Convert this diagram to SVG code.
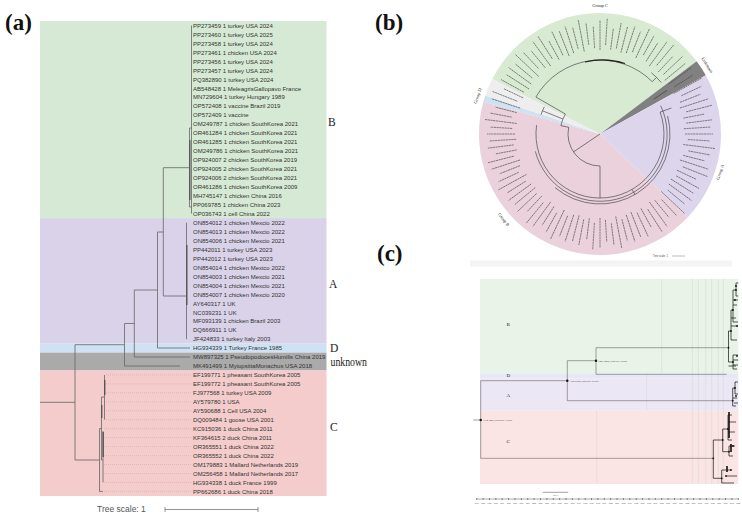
<svg xmlns="http://www.w3.org/2000/svg" xmlns:xlink="http://www.w3.org/1999/xlink" width="742" height="523" viewBox="0 0 742 523">
<style>
.pl{font-family:"Liberation Serif",serif;font-size:23px;font-weight:bold;fill:#111}
.lf{font-family:"Liberation Sans",Arial,sans-serif;font-size:6px;fill:#333}
.gl{font-family:"Liberation Serif",serif;font-size:11.5px;fill:#222}
.tr{fill:none;stroke:#666;stroke-width:0.8}
.trd{fill:none;stroke:#555;stroke-width:1.4}
.dt{stroke:#c9a3a3;stroke-width:0.5;stroke-dasharray:1 1}
.bt{fill:none;stroke:#333;stroke-width:0.6}
.bl{stroke:#444;stroke-width:0.8;stroke-dasharray:2.2 0.5;opacity:0.75}
.bg{font-family:"Liberation Serif",serif;font-size:4.5px;fill:#222}
.ct{fill:none;stroke:#666;stroke-width:0.6}
.cd{fill:none;stroke:#111;stroke-width:0.7}
.cgr{stroke:#d4d4d4;stroke-width:0.5}
.cl{font-family:"Liberation Serif",serif;font-size:5px;fill:#222}
.nl{font-family:"Liberation Serif",serif;font-size:2.5px;fill:#333}
.tk{font-family:"Liberation Sans",Arial,sans-serif;font-size:1.8px;fill:#555;text-anchor:middle}
</style>
<defs>
<g id="lblset">
<line class="bl" x1="85" x2="113"/>
<line class="bl" x1="88" x2="110" transform="rotate(3.6)"/>
<line class="bl" x1="84" x2="116" transform="rotate(7.2)"/>
<line class="bl" x1="90" x2="112" transform="rotate(10.8)"/>
<line class="bl" x1="86" x2="108" transform="rotate(14.4)"/>
<line class="bl" x1="84" x2="114" transform="rotate(18)"/>
<line class="bl" x1="89" x2="116" transform="rotate(21.6)"/>
<line class="bl" x1="85" x2="106" transform="rotate(25.2)"/>
<line class="bl" x1="87" x2="113" transform="rotate(28.8)"/>
<line class="bl" x1="84" x2="111" transform="rotate(32.4)"/>
</g>
</defs>
<rect width="742" height="523" fill="#fff"/>

<!-- ================= PANEL (a) ================= -->
<g id="panel-a">
<text class="pl" x="5" y="30">(a)</text>
<g id="a-bands">
<rect x="40" y="21" width="286.5" height="197.1" fill="#d6e9d4"/>
<rect x="40" y="218.1" width="286.5" height="125.5" fill="#d9d2e9"/>
<rect x="40" y="343.6" width="286.5" height="9" fill="#cfe2f3"/>
<rect x="40" y="352.6" width="286.5" height="17.9" fill="#aaaaaa"/>
<rect x="40" y="370.5" width="286.5" height="125.5" fill="#f4cccc"/>
</g>
<g id="a-connectors">
<g class="dt">
<line x1="106" y1="374.9" x2="191" y2="374.9"/><line x1="106" y1="383.9" x2="191" y2="383.9"/>
<line x1="106" y1="392.8" x2="191" y2="392.8"/><line x1="106" y1="401.8" x2="191" y2="401.8"/>
<line x1="106" y1="410.8" x2="191" y2="410.8"/><line x1="106" y1="419.7" x2="191" y2="419.7"/>
<line x1="104" y1="428.7" x2="191" y2="428.7"/><line x1="104" y1="437.6" x2="191" y2="437.6"/>
<line x1="104" y1="446.6" x2="191" y2="446.6"/><line x1="104" y1="455.6" x2="191" y2="455.6"/>
<line x1="104" y1="464.5" x2="191" y2="464.5"/><line x1="104" y1="473.5" x2="191" y2="473.5"/>
<line x1="104" y1="482.4" x2="191" y2="482.4"/><line x1="104" y1="491.4" x2="191" y2="491.4"/>
</g>
<path class="tr" d="M40,402.3H75 M75,344.7V460 M75,344.7H124.5 M75,460H99.5 M124.5,323.5V366 M124.5,366H180 M124.5,323.5H134.3 M134.3,290V357 M134.3,357H190 M134.3,290H157.5 M157.5,232V348 M157.5,348H190 M157.5,232H163.3 M163.3,167.7V296 M163.3,167.7H189.5 M163.3,296H186.5"/>
<path class="tr" d="M189.5,128V207 M191.5,25.5V213.6 M189.5,128H191.5 M189.5,207H191.5 M186.5,222.6V339.1"/>
<path class="trd" d="M189.8,140V200 M186.8,245V305"/>
<path class="tr" d="M99.5,428.6V491.4 M99.5,491.4H103 M99.5,428.6H101.5 M101.5,397V460 M101.5,397H104.5 M104.5,375V419.7 M101.5,460H103 M103,431V482.4"/>
<path class="trd" d="M104.7,380V395 M103.2,432V457 M101.7,405V418"/>
</g>
<g id="a-labels">
<text class="lf" x="193" y="27.7">PP273459 1 turkey USA 2024</text>
<text class="lf" x="193" y="36.7">PP273460 1 turkey USA 2025</text>
<text class="lf" x="193" y="45.6">PP273458 1 turkey USA 2024</text>
<text class="lf" x="193" y="54.6">PP273461 1 chicken USA 2024</text>
<text class="lf" x="193" y="63.6">PP273456 1 turkey USA 2024</text>
<text class="lf" x="193" y="72.5">PP273457 1 turkey USA 2024</text>
<text class="lf" x="193" y="81.5">PQ382890 1 turkey USA 2024</text>
<text class="lf" x="193" y="90.5">AB548428 1 MeleagrisGallopavo France</text>
<text class="lf" x="193" y="99.4">MN729604 1 turkey Hungary 1989</text>
<text class="lf" x="193" y="108.4">OP572408 1 vaccine Brazil 2019</text>
<text class="lf" x="193" y="117.3">OP572409 1 vaccine</text>
<text class="lf" x="193" y="126.3">OM249787 1 chicken SouthKorea 2021</text>
<text class="lf" x="193" y="135.3">OR461284 1 chicken SouthKorea 2021</text>
<text class="lf" x="193" y="144.2">OR461285 1 chicken SouthKorea 2021</text>
<text class="lf" x="193" y="153.2">OM249786 1 chicken SouthKorea 2021</text>
<text class="lf" x="193" y="162.1">OP924007 2 chicken SouthKorea 2019</text>
<text class="lf" x="193" y="171.1">OP924005 2 chicken SouthKorea 2021</text>
<text class="lf" x="193" y="180.1">OP924006 2 chicken SouthKorea 2021</text>
<text class="lf" x="193" y="189.0">OR461286 1 chicken SouthKorea 2009</text>
<text class="lf" x="193" y="198.0">MH745147 1 chicken China 2016</text>
<text class="lf" x="193" y="206.9">PP069785 1 chicken China 2023</text>
<text class="lf" x="193" y="215.9">OP036743 1 cell China 2022</text>
<text class="lf" x="193" y="224.9">ON854012 1 chicken Mexcio 2022</text>
<text class="lf" x="193" y="233.8">ON854013 1 chicken Mexcio 2022</text>
<text class="lf" x="193" y="242.8">ON854006 1 chicken Mexcio 2021</text>
<text class="lf" x="193" y="251.7">PP442011 1 turkey USA 2023</text>
<text class="lf" x="193" y="260.7">PP442012 1 turkey USA 2023</text>
<text class="lf" x="193" y="269.7">ON854014 1 chicken Mexico 2022</text>
<text class="lf" x="193" y="278.6">ON854003 1 chicken Mexcio 2021</text>
<text class="lf" x="193" y="287.6">ON854004 1 chicken Mexcio 2021</text>
<text class="lf" x="193" y="296.5">ON854007 1 chicken Mexcio 2020</text>
<text class="lf" x="193" y="305.5">AY640317 1 UK</text>
<text class="lf" x="193" y="314.5">NC039231 1 UK</text>
<text class="lf" x="193" y="323.4">MF093139 1 chicken Brazil 2003</text>
<text class="lf" x="193" y="332.4">DQ666911 1 UK</text>
<text class="lf" x="193" y="341.3">JF424833 1 turkey Italy 2003</text>
<text class="lf" x="193" y="350.3">HG934339 1 Turkey France 1985</text>
<text class="lf" x="193" y="359.3">MW897325 1 PseudopodocesHumilis China 2019</text>
<text class="lf" x="193" y="368.2">MK491499 1 MyiopsittaMonachus USA 2018</text>
<text class="lf" x="193" y="377.2">EF199771 1 pheasant SouthKorea 2005</text>
<text class="lf" x="193" y="386.1">EF199772 1 pheasant SouthKorea 2005</text>
<text class="lf" x="193" y="395.1">FJ977568 1 turkey USA 2009</text>
<text class="lf" x="193" y="404.1">AY579780 1 USA</text>
<text class="lf" x="193" y="413.0">AY590688 1 Cell USA 2004</text>
<text class="lf" x="193" y="422.0">DQ009484 1 goose USA 2001</text>
<text class="lf" x="193" y="430.9">KC915036 1 duck China 2011</text>
<text class="lf" x="193" y="439.9">KF364615 2 duck China 2011</text>
<text class="lf" x="193" y="448.9">OR365551 1 duck China 2022</text>
<text class="lf" x="193" y="457.8">OR365552 1 duck China 2022</text>
<text class="lf" x="193" y="466.8">OM179883 1 Mallard Netherlands 2019</text>
<text class="lf" x="193" y="475.7">OM256458 1 Mallard Netherlands 2017</text>
<text class="lf" x="193" y="484.7">HG934338 1 duck France 1999</text>
<text class="lf" x="193" y="493.7">PP662686 1 duck China 2018</text>
</g>
<g id="a-groups">
<text class="gl" x="328" y="126">B</text>
<text class="gl" x="329" y="288.3">A</text>
<text class="gl" x="330" y="351.7">D</text>
<text class="gl" x="330.5" y="365.7" textLength="36.5" lengthAdjust="spacingAndGlyphs">unknown</text>
<text class="gl" x="330" y="430.7">C</text>
</g>
<g id="a-scale">
<text x="97" y="512" font-family="Liberation Sans, Arial, sans-serif" font-size="8.5" fill="#555">Tree scale: 1</text>
<path d="M165,509.5H258 M165,507V512 M258,507V512" stroke="#666" stroke-width="0.7" fill="none"/>
</g>
</g>

<!-- ================= PANEL (b) ================= -->
<g id="panel-b">
<text class="pl" x="375" y="30">(b)</text>
<g id="b-sectors">
<path d="M600,134 L696.6,61.2 A121,121 0 0 0 492.2,79.1 Z" fill="#d9ead3"/>
<path d="M600,134 L705.8,75.3 A121,121 0 0 0 696.6,61.2 Z" fill="#808080"/>
<path d="M600,134 L687.8,217.3 A121,121 0 0 0 705.8,75.3 Z" fill="#ddd5ec"/>
<path d="M600,134 L483.4,101.7 A121,121 0 0 0 687.8,217.3 Z" fill="#ead1dc"/>
<path d="M600,134 L485.3,95.6 A121,121 0 0 0 483.4,101.7 Z" fill="#cfe2f3"/>
<path d="M600,134 L492.2,79.1 A121,121 0 0 0 485.3,95.6 Z" fill="#eeeeee"/>
</g>
<g id="b-leaves" transform="translate(600,134)">
<use xlink:href="#lblset"/>
<use xlink:href="#lblset" transform="rotate(36)"/>
<use xlink:href="#lblset" transform="rotate(72)"/>
<use xlink:href="#lblset" transform="rotate(108)"/>
<use xlink:href="#lblset" transform="rotate(144)"/>
<use xlink:href="#lblset" transform="rotate(180)"/>
<use xlink:href="#lblset" transform="rotate(216)"/>
<use xlink:href="#lblset" transform="rotate(252)"/>
<use xlink:href="#lblset" transform="rotate(288)"/>
<use xlink:href="#lblset" transform="rotate(324)"/>
</g>
<g id="b-connectors">
<path class="bt" d="M600,134 L573.5,151.9 M568.7,127.3 A32,32 0 0 0 600,166 M600,166 V198"/>
<path class="bt" d="M536.6,125.1 A64,64 0 1 0 660.1,112.1"/>
<path class="bt" d="M535.3,151.3 A67,67 0 1 0 660.7,105.7"/>
<path class="bt" d="M555,187.6 A70,70 0 0 0 667.6,115.9"/>
<path class="bt" d="M632,189.4 L635,194.6 M660.1,112.1 L671.4,108 M653.7,99.1 L667.1,90.4"/>
<path class="bt" d="M568.7,127.3 L560.9,125.7 A40,40 0 0 1 565.4,114 L535.9,97 A74,74 0 0 1 652.3,81.7 L656.6,77.4 M661.3,82.6 A80,80 0 0 0 651.4,72.7"/>
<path class="bt" d="M562.9,119 L542.5,110.8 M544.3,106.8 A62,62 0 0 0 541,114.8"/>
<path d="M585,62 A73,73 0 0 1 625,63.5" fill="none" stroke="#222" stroke-width="1.1"/>
</g>
<g id="b-labels">
<text class="bg" x="600" y="6.5" text-anchor="middle">Group C</text>
<text class="bg" text-anchor="middle" transform="translate(706,66) rotate(57)">Unknown</text>
<text class="bg" text-anchor="middle" transform="translate(721.5,172.5) rotate(-72)">Group A</text>
<text class="bg" text-anchor="middle" transform="translate(479,96.5) rotate(-70)">Group D</text>
<text class="bg" text-anchor="middle" transform="translate(502.5,220.5) rotate(51.5)">Group B</text>
</g>
<g id="b-scale">
<text x="653" y="257" font-family="Liberation Sans, Arial, sans-serif" font-size="2.6" fill="#444">Tree scale: 1</text>
<line x1="672" y1="256" x2="685" y2="256" stroke="#555" stroke-width="0.4"/>
</g>
</g>

<!-- ================= PANEL (c) ================= -->
<g id="panel-c">
<text class="pl" x="377" y="261">(c)</text>
<rect x="470" y="260.5" width="262" height="6" fill="#ececec" opacity="0.6"/>
<g id="c-bands">
<rect x="480" y="279" width="258.3" height="94.3" fill="#e9f3e7"/>
<rect x="480" y="373.3" width="258.3" height="5.2" fill="#e5e9f5"/>
<rect x="480" y="378.5" width="258.3" height="32.2" fill="#ece7f4"/>
<rect x="480" y="410.7" width="258.3" height="73.3" fill="#fbe5e4"/>
</g>
<g id="c-grid">
<line class="cgr" x1="596.7" y1="410.7" x2="596.7" y2="484"/>
<line class="cgr" x1="646.7" y1="373.3" x2="646.7" y2="410.7"/>
<line class="cgr" x1="661.7" y1="279" x2="661.7" y2="373.3"/>
<line class="cgr" x1="692.3" y1="279" x2="692.3" y2="484"/>
<line class="cgr" x1="698.3" y1="279" x2="698.3" y2="484"/>
<line class="cgr" x1="705.7" y1="279" x2="705.7" y2="484"/>
<line class="cgr" x1="711.7" y1="279" x2="711.7" y2="484"/>
<line class="cgr" x1="718.3" y1="279" x2="718.3" y2="484"/>
<line class="cgr" x1="723.3" y1="279" x2="723.3" y2="484"/>
</g>
<g id="c-groups">
<text class="cl" x="506.5" y="326">B</text>
<text class="cl" x="506.5" y="377">D</text>
<text class="cl" x="506.5" y="397">A</text>
<text class="cl" x="506.5" y="442.5">C</text>
</g>
<g id="c-connectors">
<path class="ct" d="M473.3,420H480.7 M480.7,380.7V458.3 M480.7,380.7H567.3 M480.7,458.3H713.3 M567.3,360.7V400.7 M567.3,360.7H596 M567.3,400.7H732.7 M596,347.7V374.3 M596,347.7H728.5 M596,374.3H726.7"/>
<path class="cd" d="M728.5,331V362 M728.5,331H731 M731,310V340 M731,310H733 M733,290V322 M733,290H736 M736,283V296 M728.5,362H733 M733,355V369 M731,340H737 M733,322H738 M736,283H738.3 M736,296H738.3 M733,300H738 M733,305H737 M731,318H736 M731,326H738 M733,355H738 M733,360H738.3 M733,365H738 M733,369H737 M728.5,366H736"/>
<path class="cd" d="M732.7,388V406 M732.7,388H735 M735,382V394 M735,382H738 M735,394H738 M732.7,398H737 M732.7,406H736 M734,403H738"/>
<path class="cd" d="M713.3,440V478.3 M713.3,440H722.7 M722.7,429V451.7 M722.7,429H728 M728,415V440 M728,415H732 M728,440H732 M722.7,451.7H729 M729,446V456 M729,446H735 M729,456H733 M713.3,478.3H721.7 M721.7,470V483 M721.7,470H731 M721.7,483H734 M728,422H736 M728,432H735 M726,476H737"/>
<path d="M729,412V438 M731,444V452 M727,466V472" stroke="#111" stroke-width="1.6"/>
<g fill="#111">
<circle cx="480.7" cy="420" r="1.2"/><circle cx="567.3" cy="380.7" r="1.2"/><circle cx="596" cy="360.7" r="1.2"/>
<circle cx="728.5" cy="347.7" r="0.9"/><circle cx="731" cy="331" r="0.9"/><circle cx="733" cy="310" r="0.9"/><circle cx="736" cy="290" r="0.9"/><circle cx="733" cy="362" r="0.9"/><circle cx="736" cy="286" r="0.9"/><circle cx="737" cy="326" r="0.9"/><circle cx="737" cy="356" r="0.9"/><circle cx="735" cy="300" r="0.9"/>
<circle cx="732.7" cy="400.7" r="0.9"/><circle cx="735" cy="388" r="0.9"/><circle cx="736" cy="396" r="0.9"/>
<circle cx="713.3" cy="458.3" r="0.9"/><circle cx="722.7" cy="440" r="0.9"/><circle cx="728" cy="429" r="0.9"/><circle cx="729" cy="451.7" r="0.9"/><circle cx="721.7" cy="478.3" r="0.9"/><circle cx="731" cy="470" r="0.9"/><circle cx="726" cy="476" r="0.9"/><circle cx="733" cy="446" r="0.9"/>
</g>
</g>
<g id="c-nodelabels">
<text class="nl" x="483" y="421">1014.9425_Posterior: 1.0000</text>
<text class="nl" x="569.5" y="381.6">1355.8754_Posterior: 0.6769</text>
<text class="nl" x="598.2" y="361.6">1466.3464_Posterior: 0.6023</text>
</g>
<g id="c-axis">
<line x1="542.7" y1="492.3" x2="568.3" y2="492.3" stroke="#444" stroke-width="0.5"/>
<text class="tk" x="555.5" y="495.8">500.0</text>
<line x1="476.7" y1="499" x2="738.3" y2="499" stroke="#555" stroke-width="0.5"/>
<path d="M476.7,498V500 M483.1,498V500 M489.5,498V500 M495.8,498V500 M502.2,498V500 M508.6,498V500 M515,498V500 M521.4,498V500 M527.7,498V500 M534.1,498V500 M540.5,498V500 M546.9,498V500 M553.3,498V500 M559.6,498V500 M566,498V500 M572.4,498V500 M578.8,498V500 M585.2,498V500 M591.5,498V500 M597.9,498V500 M604.3,498V500 M610.7,498V500 M617.1,498V500 M623.4,498V500 M629.8,498V500 M636.2,498V500 M642.6,498V500 M649,498V500 M655.3,498V500 M661.7,498V500 M668.1,498V500 M674.5,498V500 M680.9,498V500 M687.2,498V500 M693.6,498V500 M700,498V500 M706.4,498V500 M712.8,498V500 M719.1,498V500 M725.5,498V500 M731.9,498V500 M738.3,498V500" stroke="#444" stroke-width="0.6"/>
<text class="tk" x="476.7" y="503.6">1000</text><text class="tk" x="483.1" y="503.6">1025</text><text class="tk" x="489.5" y="503.6">1050</text><text class="tk" x="495.8" y="503.6">1075</text><text class="tk" x="502.2" y="503.6">1100</text><text class="tk" x="508.6" y="503.6">1125</text><text class="tk" x="515" y="503.6">1150</text><text class="tk" x="521.4" y="503.6">1175</text><text class="tk" x="527.7" y="503.6">1200</text><text class="tk" x="534.1" y="503.6">1225</text><text class="tk" x="540.5" y="503.6">1250</text><text class="tk" x="546.9" y="503.6">1275</text><text class="tk" x="553.3" y="503.6">1300</text><text class="tk" x="559.6" y="503.6">1325</text><text class="tk" x="566" y="503.6">1350</text><text class="tk" x="572.4" y="503.6">1375</text><text class="tk" x="578.8" y="503.6">1400</text><text class="tk" x="585.2" y="503.6">1425</text><text class="tk" x="591.5" y="503.6">1450</text><text class="tk" x="597.9" y="503.6">1475</text><text class="tk" x="604.3" y="503.6">1500</text><text class="tk" x="610.7" y="503.6">1525</text><text class="tk" x="617.1" y="503.6">1550</text><text class="tk" x="623.4" y="503.6">1575</text><text class="tk" x="629.8" y="503.6">1600</text><text class="tk" x="636.2" y="503.6">1625</text><text class="tk" x="642.6" y="503.6">1650</text><text class="tk" x="649" y="503.6">1675</text><text class="tk" x="655.3" y="503.6">1700</text><text class="tk" x="661.7" y="503.6">1725</text><text class="tk" x="668.1" y="503.6">1750</text><text class="tk" x="674.5" y="503.6">1775</text><text class="tk" x="680.9" y="503.6">1800</text><text class="tk" x="687.2" y="503.6">1825</text><text class="tk" x="693.6" y="503.6">1850</text><text class="tk" x="700" y="503.6">1875</text><text class="tk" x="706.4" y="503.6">1900</text><text class="tk" x="712.8" y="503.6">1925</text><text class="tk" x="719.1" y="503.6">1950</text><text class="tk" x="725.5" y="503.6">1975</text><text class="tk" x="731.9" y="503.6">2000</text><text class="tk" x="738.3" y="503.6">2025</text>
</g>
</g>
</svg>
